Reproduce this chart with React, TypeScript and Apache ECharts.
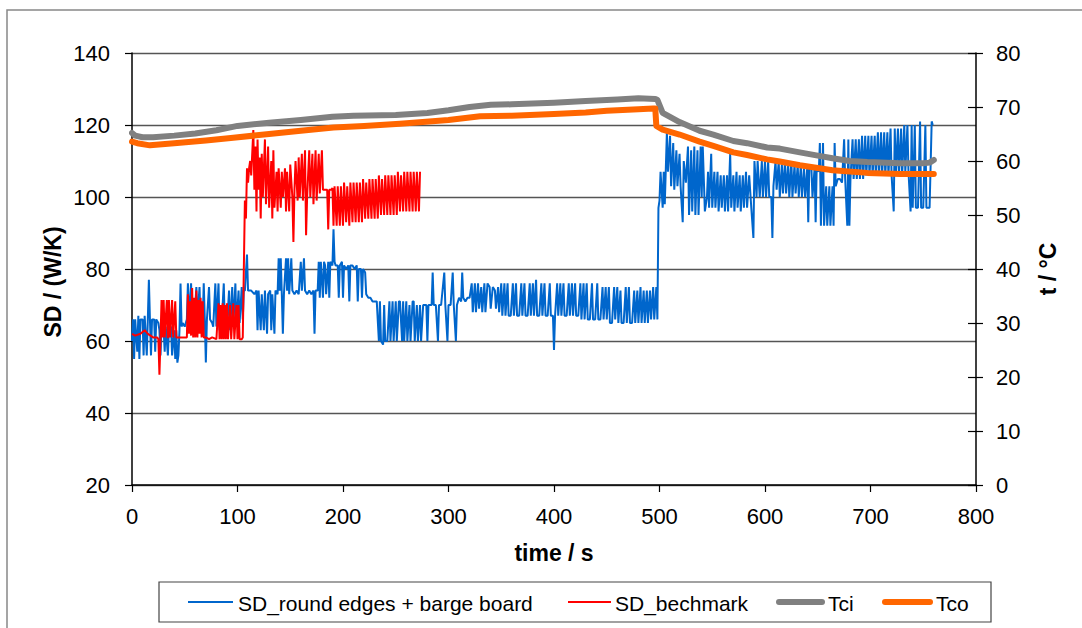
import React, { useEffect, useRef } from "react";
import * as echarts from "echarts";

const FONT = "'Liberation Sans', Arial, sans-serif";

const xTicks = [0, 100, 200, 300, 400, 500, 600, 700, 800];
const leftTicks = [20, 40, 60, 80, 100, 120, 140];
const rightTicks = [0, 10, 20, 30, 40, 50, 60, 70, 80];

const seriesNames = ["SD_round edges + barge board", "SD_bechmark", "Tci", "Tco"];
const seriesColors = ["#0066CC", "#FF0000", "#808080", "#FF6600"];

// SD_round edges + barge board  [time s, SD W/K]
const sdRoundEdges: [number, number][] = [
  [0, 60], [1, 66], [2, 55], [3, 66], [5, 57], [6, 67], [7, 55], [8, 66], [10, 66], [11, 56], [12, 67], [14, 56], [15, 66], [16, 77], [17, 66], [18, 56], [19, 66], [21, 66], [22, 57], [23, 66], [25, 65],
  [26, 63], [27, 56], [28, 64], [30, 63], [31, 57], [32, 64], [34, 56], [35, 63], [37, 64], [38, 56], [40, 63], [41, 55], [42, 63], [43, 54], [44, 56], [45, 63], [46, 76], [47, 64],
  [48, 65], [50, 64], [52, 66], [53, 76], [54, 66], [56, 76], [57, 65], [59, 65], [61, 75], [62, 66], [64, 75], [65, 65], [67, 65], [68, 76], [69, 66], [70, 54], [71, 66], [73, 75], [74, 66], [76, 65],
  [77, 64], [79, 76], [80, 64], [82, 76], [83, 63], [85, 65], [87, 76], [88, 64], [90, 64], [92, 74], [93, 63], [95, 75], [96, 64], [98, 76], [99, 64], [101, 74], [102, 65], [104, 75], [105, 66], [106, 74],
  [107, 74], [109, 84], [110, 74], [113, 74], [116, 73], [118, 74], [119, 63], [120, 74], [122, 63], [123, 73], [125, 63], [126, 74], [128, 62], [129, 73], [131, 74], [132, 63], [133, 73], [135, 62], [136, 74], [138, 73],
  [139, 83], [140, 74], [141, 83], [142, 73], [143, 62], [144, 73], [146, 83], [147, 74], [148, 83], [149, 73], [151, 83], [152, 74], [154, 73],
  [156, 74], [158, 73], [160, 82], [161, 74], [163, 83], [164, 74], [166, 73], [168, 74], [170, 73], [172, 74], [173, 62], [174, 74], [176, 74],
  [177, 82], [178, 72], [179, 82], [181, 72], [182, 82], [183, 81], [184, 73], [186, 82], [187, 72], [188, 82], [190, 81], [191, 91], [192, 82], [193, 81],
  [195, 81], [196, 72], [197, 81], [199, 82], [200, 72], [201, 81], [203, 80], [205, 81], [206, 71], [207, 81], [209, 81], [211, 80], [213, 81], [214, 71], [215, 80], [217, 80], [218, 72], [219, 80], [221, 79],
  [222, 73], [224, 72], [226, 72], [228, 71], [230, 71], [232, 71],
  [234, 60], [235, 71], [236, 60], [238, 59], [239, 70], [240, 60], [242, 60], [244, 71], [245, 60], [247, 71], [248, 60], [250, 71], [251, 60], [253, 71], [254, 71], [256, 60], [257, 71], [258, 60], [260, 71], [261, 60], [263, 70], [264, 60], [266, 71], [267, 71], [268, 60], [270, 70], [271, 60], [273, 70], [274, 60], [276, 70],
  [277, 70], [279, 70], [280, 60], [281, 70], [284, 70], [285, 79], [286, 70], [288, 70], [290, 60], [291, 70], [293, 70], [296, 79], [297, 70], [299, 60], [300, 70], [302, 70], [304, 79], [305, 70], [307, 60], [308, 70], [310, 72], [312, 71], [313, 79], [314, 72], [316, 71], [318, 72], [320, 72],
  [322, 76], [323, 68], [325, 76], [326, 68], [328, 76], [329, 69], [331, 75], [332, 68], [334, 76], [335, 68], [337, 76], [339, 75], [340, 69], [342, 75], [344, 74], [345, 69], [347, 75], [348, 68], [350, 76],
  [351, 67], [353, 76], [354, 67], [356, 76], [357, 67], [359, 67], [361, 76], [362, 67], [364, 76], [365, 67], [367, 67], [369, 76], [370, 67], [372, 76], [373, 67], [375, 67], [377, 76], [378, 67], [380, 76], [381, 67], [383, 77], [384, 67], [386, 67], [388, 76], [389, 67], [391, 76], [392, 67], [394, 67], [396, 76], [397, 67], [399, 67], [400, 57.5], [401, 67],
  [403, 76], [404, 67], [406, 76], [407, 67], [409, 76], [410, 67], [412, 67], [414, 76], [415, 67], [417, 76], [418, 67], [420, 76], [421, 67], [423, 67], [425, 76], [426, 66], [428, 76], [429, 66], [431, 76], [432, 66], [434, 66], [436, 76], [437, 66], [439, 66], [441, 76], [442, 66], [444, 66], [446, 75], [447, 66], [449, 75], [450, 66], [452, 75], [453, 65], [455, 65], [457, 75], [458, 66], [460, 75], [461, 65], [463, 74], [464, 65], [466, 65], [468, 75], [469, 65], [471, 75], [472, 65], [474, 65], [476, 74], [477, 65], [479, 74], [480, 65], [482, 75], [483, 65], [485, 74], [486, 65], [488, 74], [489, 65], [491, 74], [492, 66], [494, 75], [495, 66], [497, 75], [498, 66],
  [499, 97], [500, 99], [501, 107], [503, 97], [504, 107], [505, 98], [506, 108], [507, 118], [508, 107], [510, 117], [511, 103], [513, 115], [514, 102], [516, 113], [517, 103], [519, 112], [520, 103], [522, 93], [523, 110], [525, 104],
  [527, 114], [528, 95], [530, 113], [531, 96], [533, 114], [534, 95], [536, 113], [537, 95], [539, 114], [540, 100], [541, 114], [543, 96], [545, 100],
  [546, 107], [547, 97], [549, 112], [550, 97], [552, 107], [553, 97], [555, 107], [556, 96], [558, 106], [559, 97], [561, 106], [562, 96], [564, 106], [565, 96], [567, 112], [568, 97], [570, 106], [571, 96], [573, 107], [574, 97], [576, 106], [577, 96], [579, 106], [580, 97], [582, 107], [583, 97], [585, 106],
  [587, 97], [589, 88.6], [590, 110], [592, 100], [593, 110], [595, 100], [597, 110], [598, 100], [600, 110], [601, 100], [603, 110], [604, 100], [606, 100], [607, 88.6], [608, 103],
  [610, 110], [611, 102], [613, 110], [614, 100], [616, 109], [617, 101], [619, 110], [620, 101], [622, 109], [623, 100], [625, 110], [626, 100], [628, 109], [629, 101], [631, 109], [632, 100], [634, 109], [635, 100], [637, 108], [638, 100], [640, 108], [641, 93], [642, 108], [644, 108], [645, 100], [647, 108], [648, 93], [649, 108], [651, 107], [652, 115],
  [653, 92], [654, 103], [655, 115], [656, 92], [658, 103], [659, 92], [661, 103], [662, 92], [664, 103], [665, 92], [666, 115], [667, 103], [669, 105], [671, 105], [673, 104], [675, 116], [676, 105], [678, 92], [679, 116], [680, 92], [681, 105], [683, 116], [684, 105], [686, 116], [687, 105], [689, 116],
  [690, 105], [692, 117], [693, 105], [695, 117], [696, 106], [698, 117], [699, 106], [701, 117], [702, 106], [704, 117], [705, 106], [707, 118], [708, 106], [710, 118], [711, 106], [713, 118], [714, 106], [716, 118],
  [717, 106], [719, 119], [720, 106], [722, 96], [723, 119], [724, 106], [726, 119], [727, 106], [729, 119], [730, 106], [732, 120], [733, 107], [735, 120], [736, 107], [738, 96], [739, 120],
  [740, 97], [742, 120], [743, 97], [745, 97], [747, 121], [748, 97], [750, 97], [752, 120], [753, 97], [755, 97], [756, 97], [758, 121], [759, 120],
];

// SD_bechmark  [time s, SD W/K]
const sdBenchmark: [number, number][] = [
  [0, 62], [3, 61.5], [8, 62], [12, 63], [15, 62], [20, 61], [24, 61], [25, 60.5], [26, 50.6], [27, 60.5], [28, 71.4], [29, 61], [30, 71.4], [31, 61], [33, 71.4], [34, 60.8], [35, 71.4], [36, 61], [38, 71.4], [39, 61], [41, 71], [42, 61], [44, 61], [48, 61], [52, 61],
  [53, 73], [54, 62], [55, 71], [56, 61.5], [57, 74.7], [58, 61], [59, 72], [60, 61], [61, 74], [62, 61], [63, 71.4], [64, 62], [65, 72], [66, 61], [67, 71], [68, 61], [70, 61], [73, 60.5], [76, 61], [80, 60.5],
  [82, 70.5], [83, 60.5], [84, 70], [85, 60.5], [86, 70.5], [87, 60.5], [88, 70], [89, 60.5], [90, 70.5], [91, 60.5], [93, 70], [94, 60.5], [96, 70.5], [97, 60.5], [99, 70], [100, 60.5], [101, 70], [102, 60.5], [104, 60.5], [105, 61],
  [107, 99], [108, 94], [109, 108], [110, 104], [111, 108], [112, 110], [113, 106], [115, 118.6], [116, 102], [117, 114], [118, 96], [119, 116], [120, 102], [121, 111], [122, 94], [123, 112], [124, 100], [126, 116], [127, 98], [129, 114], [130, 97], [132, 110], [133, 94], [134, 113], [135, 97],
  [137, 107], [138, 96], [139, 108], [141, 97], [142, 107], [143, 100], [145, 108], [146, 96], [147, 107], [149, 96], [150, 109], [152, 100], [153, 87.5], [154, 102], [155, 110], [157, 99], [158, 111], [159, 100], [161, 112], [162, 99], [164, 113], [165, 89.4], [166, 100], [168, 113], [169, 100], [171, 112], [172, 98], [174, 113], [175, 99], [177, 112], [178, 101], [180, 113], [181, 102], [183, 102], [185, 102], [186, 91], [187, 102], [189, 102], [190, 102.5],
  [191, 92], [192, 103], [194, 92], [195, 103], [197, 92], [198, 103], [200, 92], [201, 104], [203, 93], [204, 103], [206, 92], [207, 104], [209, 93], [210, 104], [212, 93], [213, 104], [215, 93], [216, 104], [218, 93], [219, 105], [221, 94], [222, 104], [224, 94], [225, 105], [227, 94], [228, 105], [230, 94], [231, 105], [233, 94], [234, 106], [236, 95], [237, 105], [239, 95], [240, 106], [242, 95], [243, 106], [245, 95], [246, 106], [248, 95], [249, 106], [251, 95], [252, 107], [254, 96], [255, 106], [257, 96], [258, 107], [260, 96], [261, 107], [263, 96], [264, 107], [266, 96], [267, 107], [269, 96], [270, 107], [272, 96], [273, 107],
];

// Tci  [time s, °C]
const tci: [number, number][] = [
  [0, 65.2], [3, 64.7], [10, 64.4], [20, 64.4], [40, 64.7], [60, 65.1], [80, 65.7], [100, 66.5], [130, 67.1], [160, 67.6], [190, 68.2], [210, 68.4], [250, 68.5], [280, 68.9], [300, 69.4], [320, 70.0], [340, 70.4], [360, 70.5], [400, 70.8], [430, 71.1], [460, 71.4], [480, 71.6], [496, 71.5],
  [498, 71.3], [503, 68.9], [519, 67.2], [538, 65.6], [551, 64.9], [570, 63.7], [583, 63.3], [602, 62.5], [614, 62.3], [633, 61.6], [650, 61.0], [664, 60.5], [680, 60.0], [697, 59.8], [728, 59.6], [750, 59.6], [756, 59.7], [760, 60.2],
];

// Tco  [time s, °C]
const tco: [number, number][] = [
  [0, 63.6], [5, 63.3], [17, 62.9], [40, 63.3], [70, 63.8], [96, 64.3], [130, 65.0], [160, 65.6], [191, 66.2], [220, 66.5], [254, 66.9], [300, 67.6], [330, 68.3], [360, 68.4], [400, 68.7], [430, 69.0], [450, 69.3], [480, 69.6], [494, 69.7], [496, 69.7],
  [497, 66.5], [503, 65.8], [519, 64.9], [538, 63.6], [551, 62.8], [570, 61.6], [583, 61.1], [602, 60.3], [614, 59.9], [633, 59.2], [664, 58.3], [697, 57.8], [728, 57.6], [760, 57.6],
];

export default function App() {
  const ref = useRef<HTMLDivElement>(null);
  useEffect(() => {
    if (!ref.current) return;
    const chart = echarts.init(ref.current, undefined, { renderer: "svg" });
    const axisText = { color: "#000", fontSize: 22, fontFamily: FONT };
    const nameText = { color: "#000", fontSize: 23, fontWeight: "bold", fontFamily: FONT };

    // legend drawn as graphic: [lineX1, lineX2, textX, lineWidth]
    const legendLayout: [number, number, number, number][] = [
      [188, 233, 238, 2],
      [568, 611, 615, 2],
      [779, 822, 828, 6],
      [885, 930, 936, 6],
    ];
    const legendY = 602;
    const legendGraphics: any[] = [];
    legendLayout.forEach(([x1, x2, tx, lw], i) => {
      legendGraphics.push({
        type: "line",
        shape: { x1, y1: legendY, x2, y2: legendY },
        style: { stroke: seriesColors[i], lineWidth: lw, lineCap: lw > 3 ? "round" : "butt" },
        silent: true,
      });
      legendGraphics.push({
        type: "text",
        x: tx,
        y: legendY + 1,
        style: {
          text: seriesNames[i],
          fill: "#000",
          fontSize: 21,
          fontFamily: FONT,
          verticalAlign: "middle",
          align: "left",
        },
        silent: true,
      });
    });

    chart.setOption({
      animation: false,
      backgroundColor: "#fff",
      grid: { left: 132, top: 53, right: 106, bottom: 143, containLabel: false },
      xAxis: {
        type: "value",
        min: xTicks[0],
        max: xTicks[xTicks.length - 1],
        interval: 100,
        name: "time / s",
        nameLocation: "middle",
        nameGap: 56,
        nameTextStyle: nameText,
        axisLine: { show: true, onZero: false, lineStyle: { color: "#000", width: 1.5 } },
        axisTick: { show: true, inside: false, length: 7, lineStyle: { color: "#000", width: 1.2 } },
        axisLabel: { ...axisText, margin: 20 },
        splitLine: { show: false },
      },
      yAxis: [
        {
          type: "value",
          position: "left",
          min: leftTicks[0],
          max: leftTicks[leftTicks.length - 1],
          interval: 20,
          axisLine: { show: true, lineStyle: { color: "#000", width: 1.5 } },
          axisTick: { show: true, inside: false, length: 7, lineStyle: { color: "#000", width: 1.2 } },
          axisLabel: { ...axisText, margin: 22 },
          splitLine: { show: true, lineStyle: { color: "#555", width: 1.4 } },
        },
        {
          type: "value",
          position: "right",
          min: rightTicks[0],
          max: rightTicks[rightTicks.length - 1],
          interval: 10,
          name: "t / °C",
          nameLocation: "middle",
          nameRotate: 90,
          nameGap: 60,
          nameTextStyle: nameText,
          axisLine: { show: true, lineStyle: { color: "#000", width: 1.5 } },
          axisTick: { show: true, inside: false, length: 7, lineStyle: { color: "#000", width: 1.2 } },
          axisLabel: { ...axisText, margin: 20 },
          splitLine: { show: false },
        },
        {
          type: "value",
          position: "right",
          min: rightTicks[0],
          max: rightTicks[rightTicks.length - 1],
          interval: 10,
          axisLine: { show: false },
          axisTick: { show: true, inside: true, length: 8, lineStyle: { color: "#000", width: 1.2 } },
          axisLabel: { show: false },
          splitLine: { show: false },
        },
      ],
      graphic: [
        {
          type: "rect",
          shape: { x: 7, y: 10, width: 1200, height: 700 },
          style: { fill: "none", stroke: "#888", lineWidth: 1.5 },
          silent: true,
          z: -10,
        },
        {
          type: "rect",
          shape: { x: 159, y: 582, width: 832, height: 40 },
          style: { fill: "none", stroke: "#444", lineWidth: 1.2 },
          silent: true,
        },
        {
          type: "text",
          x: 53,
          y: 282,
          rotation: Math.PI / 2,
          style: {
            text: "SD / (W/K)",
            fill: "#000",
            fontSize: 23,
            fontWeight: "bold",
            fontFamily: FONT,
            align: "center",
            verticalAlign: "middle",
          },
          silent: true,
        },
        ...legendGraphics,
      ],
      series: [
        {
          name: seriesNames[0],
          type: "line",
          yAxisIndex: 0,
          data: sdRoundEdges,
          symbol: "none",
          lineStyle: { color: seriesColors[0], width: 2 },
          itemStyle: { color: seriesColors[0] },
        },
        {
          name: seriesNames[1],
          type: "line",
          yAxisIndex: 0,
          data: sdBenchmark,
          symbol: "none",
          lineStyle: { color: seriesColors[1], width: 2 },
          itemStyle: { color: seriesColors[1] },
        },
        {
          name: seriesNames[2],
          type: "line",
          yAxisIndex: 1,
          data: tci,
          symbol: "none",
          lineStyle: { color: seriesColors[2], width: 6, cap: "round", join: "round" },
          itemStyle: { color: seriesColors[2] },
        },
        {
          name: seriesNames[3],
          type: "line",
          yAxisIndex: 1,
          data: tco,
          symbol: "none",
          lineStyle: { color: seriesColors[3], width: 6, cap: "round", join: "round" },
          itemStyle: { color: seriesColors[3] },
        },
      ],
    });
    return () => chart.dispose();
  }, []);
  return (
    <div
      ref={ref}
      style={{ position: "fixed", left: 0, top: 0, width: 1082, height: 628, background: "#fff" }}
    />
  );
}
